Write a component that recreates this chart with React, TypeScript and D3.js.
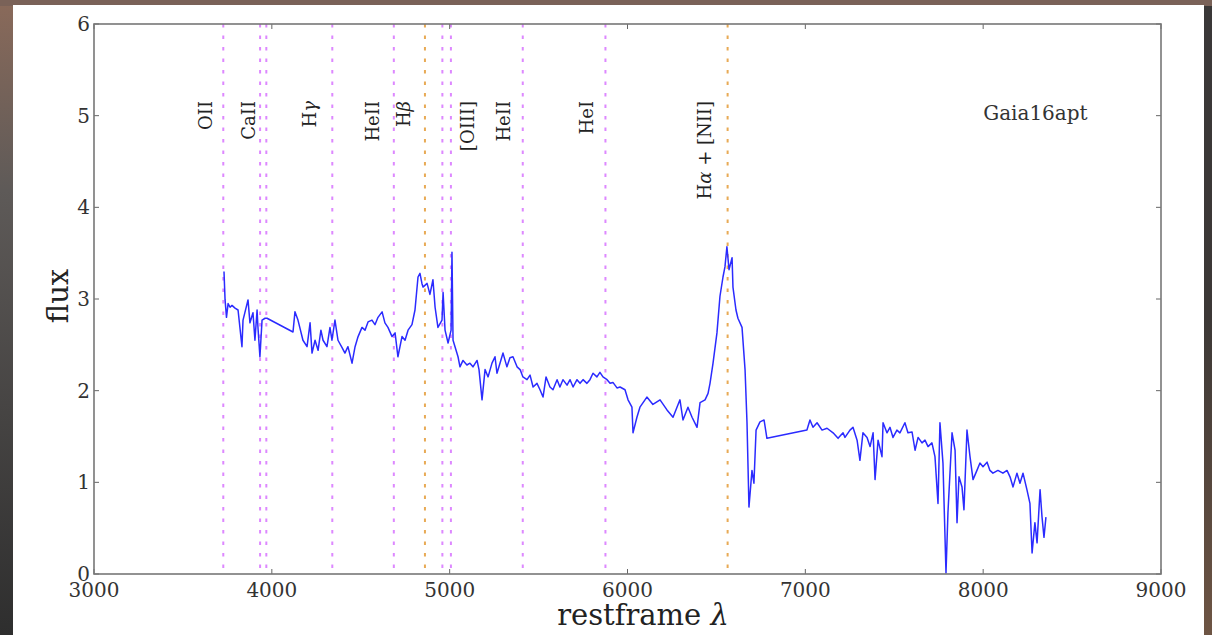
import * as d3 from 'd3';

// ─── Data ───────────────────────────────────────────────────

const WAVE = [
  3731, 3737, 3745, 3754, 3765, 3776, 3793, 3810, 3832, 3838, 3866, 3877, 3894, 3905, 3917, 3922,
  3933, 3945, 3962, 3973, 4119, 4130, 4147, 4175, 4198, 4215, 4226, 4243, 4260, 4276, 4288, 4310,
  4327, 4338, 4355, 4372, 4395, 4411, 4428, 4451, 4468, 4485, 4507, 4524, 4541, 4563, 4580, 4597,
  4620, 4636, 4653, 4676, 4693, 4709, 4732, 4749, 4766, 4788, 4805, 4822, 4833, 4844, 4850, 4873,
  4889, 4906, 4918, 4934, 4957, 4963, 4974, 4991, 5008, 5013, 5019, 5030, 5047, 5058, 5075, 5097,
  5114, 5131, 5154, 5165, 5182, 5199, 5216, 5238, 5255, 5266, 5283, 5300, 5322, 5339, 5356, 5379,
  5396, 5412, 5435, 5452, 5469, 5491, 5508, 5525, 5542, 5564, 5581, 5604, 5620, 5637, 5660, 5677,
  5694, 5716, 5733, 5750, 5772, 5789, 5806, 5828, 5845, 5862, 5885, 5902, 5918, 5941, 5958, 5986,
  6003, 6025, 6031, 6053, 6070, 6109, 6143, 6183, 6222, 6256, 6295, 6312, 6340, 6363, 6391, 6408,
  6436, 6453, 6464, 6481, 6503, 6520, 6537, 6548, 6559, 6571, 6588, 6593, 6610, 6621, 6644, 6661,
  6672, 6683, 6700, 6711, 6723, 6745, 6768, 6784, 7009, 7026, 7043, 7066, 7094, 7122, 7156, 7184,
  7212, 7223, 7251, 7268, 7291, 7307, 7324, 7347, 7364, 7381, 7392, 7409, 7431, 7437, 7459, 7476,
  7493, 7515, 7532, 7560, 7577, 7600, 7617, 7634, 7656, 7673, 7690, 7712, 7729, 7746, 7757, 7774,
  7791, 7802, 7825, 7842, 7853, 7864, 7881, 7892, 7909, 7926, 7943, 7965, 7982, 7999, 8022, 8038,
  8055, 8083, 8111, 8134, 8151, 8168, 8190, 8207, 8224, 8246, 8263, 8275, 8291, 8303, 8320, 8331,
  8342, 8353,
];

const FLUX = [
  3.30, 2.99, 2.80, 2.95, 2.91, 2.93, 2.90, 2.88, 2.48, 2.77, 2.99, 2.74, 2.85, 2.55, 2.88, 2.69,
  2.37, 2.77, 2.79, 2.79, 2.64, 2.86, 2.77, 2.55, 2.48, 2.74, 2.41, 2.55, 2.44, 2.66, 2.55, 2.48,
  2.69, 2.55, 2.77, 2.55, 2.47, 2.41, 2.48, 2.30, 2.48, 2.59, 2.69, 2.66, 2.75, 2.77, 2.72, 2.80,
  2.86, 2.74, 2.69, 2.59, 2.63, 2.37, 2.59, 2.55, 2.66, 2.72, 2.88, 3.24, 3.28, 3.17, 3.13, 3.17,
  3.05, 3.21, 2.91, 2.69, 2.77, 3.07, 2.66, 2.52, 2.66, 3.51, 2.55, 2.48, 2.37, 2.26, 2.33, 2.28,
  2.30, 2.26, 2.33, 2.23, 1.90, 2.23, 2.15, 2.30, 2.37, 2.19, 2.30, 2.41, 2.26, 2.36, 2.37, 2.26,
  2.23, 2.15, 2.12, 2.17, 2.04, 2.08, 2.01, 1.93, 2.15, 2.04, 2.01, 2.12, 2.04, 2.12, 2.06, 2.12,
  2.04, 2.12, 2.08, 2.12, 2.08, 2.12, 2.19, 2.15, 2.20, 2.15, 2.12, 2.08, 2.09, 2.03, 2.04, 2.01,
  1.90, 1.82, 1.54, 1.71, 1.82, 1.93, 1.85, 1.90, 1.79, 1.71, 1.90, 1.68, 1.82, 1.71, 1.60, 1.87,
  1.90, 1.97, 2.08, 2.30, 2.63, 3.03, 3.24, 3.35, 3.57, 3.32, 3.45, 3.13, 2.88, 2.79, 2.69, 2.23,
  1.65, 0.73, 1.13, 0.99, 1.57, 1.66, 1.68, 1.48, 1.57, 1.68, 1.60, 1.65, 1.57, 1.59, 1.54, 1.48,
  1.54, 1.49, 1.57, 1.60, 1.46, 1.24, 1.54, 1.49, 1.39, 1.54, 1.03, 1.46, 1.28, 1.65, 1.54, 1.60,
  1.49, 1.57, 1.54, 1.65, 1.54, 1.55, 1.35, 1.49, 1.43, 1.46, 1.39, 1.43, 1.28, 0.77, 1.65, 1.21,
  0.01, 0.67, 1.54, 1.35, 0.56, 1.06, 0.95, 0.70, 1.57, 1.28, 1.03, 1.13, 1.21, 1.17, 1.22, 1.13,
  1.10, 1.13, 1.10, 1.13, 1.06, 0.95, 1.10, 0.99, 1.10, 0.92, 0.77, 0.23, 0.56, 0.34, 0.92, 0.62,
  0.40, 0.62,
];

const X_TICKS = [3000, 4000, 5000, 6000, 7000, 8000, 9000];
const Y_TICKS = [0, 1, 2, 3, 4, 5, 6];

// Marked spectral lines (Å) and which ones are Balmer (orange)
const LINE_WAVES = [3727, 3934, 3969, 4340, 4686, 4861, 4959, 5007, 5411, 5876, 6563];
const LINE_BALMER = [false, false, false, false, false, true, false, false, false, false, true];

const LABELS = ['OII', 'CaII', 'Hγ', 'HeII', 'Hβ', '[OIII]', 'HeII', 'HeI', 'Hα + [NII]'];
const LABEL_WAVES = [3664, 3905, 4248, 4603, 4777, 5137, 5339, 5806, 6470];
const LABEL_FLUX = 5.16;

const OBJECT_NAME = 'Gaia16apt';

// ─── Layout ─────────────────────────────────────────────────

const W = 1212;
const H = 635;
const PLOT = { left: 94, right: 1161, top: 24, bottom: 574 };
const FONT = '"DejaVu Serif", serif';
const VIOLET = '#dd88ff';
const ORANGE = '#e8aa55';

const x = d3.scaleLinear().domain([3000, 9000]).range([PLOT.left, PLOT.right]);
const y = d3.scaleLinear().domain([0, 6]).range([PLOT.bottom, PLOT.top]);

const spectrumPath = d3
  .line<number>()
  .x((_, i) => x(WAVE[i]))
  .y((d) => y(d))(FLUX);

// greek letters rendered in italic, like mathtext
function richText(s: string) {
  return s.split(/([αβγλ])/).filter(Boolean).map((part, i) =>
    /[αβγλ]/.test(part)
      ? <tspan key={i} fontStyle="italic">{part}</tspan>
      : <tspan key={i}>{part}</tspan>
  );
}

export default function App() {
  const tickLen = 5;
  return (
    <div style={{ position: 'absolute', left: 0, top: 0 }}>
      <svg width={W} height={H} style={{ display: 'block' }}>
        <defs>
          <linearGradient id="bgLeft" x1="0" y1="0" x2="0" y2="1">
            <stop offset="0" stopColor="#8a6a5a" />
            <stop offset="0.3" stopColor="#5e5a58" />
            <stop offset="1" stopColor="#2e2e2e" />
          </linearGradient>
          <linearGradient id="bgRight" x1="0" y1="0" x2="0" y2="1">
            <stop offset="0" stopColor="#3a3838" />
            <stop offset="0.5" stopColor="#3c3836" />
            <stop offset="1" stopColor="#6e5544" />
          </linearGradient>
        </defs>

        {/* dark surroundings of the photographed figure */}
        <rect x={0} y={0} width={W} height={H} fill="url(#bgLeft)" />
        <rect x={W / 2} y={0} width={W / 2} height={H} fill="url(#bgRight)" />
        <rect x={0} y={0} width={W} height={6} fill="#7a6258" />
        <rect x={13} y={5} width={1191} height={H - 5} fill="#ffffff" />

        {/* spectral line markers */}
        {LINE_WAVES.map((w, i) => (
          <line
            key={`l${i}`}
            x1={x(w)} x2={x(w)}
            y1={PLOT.top} y2={PLOT.bottom}
            stroke={LINE_BALMER[i] ? ORANGE : VIOLET}
            strokeWidth={2}
            strokeDasharray="3.5 8"
          />
        ))}

        {/* line labels */}
        {LABELS.map((lab, i) => {
          const lx = x(LABEL_WAVES[i]);
          const ly = y(LABEL_FLUX);
          return (
            <text
              key={`t${i}`}
              transform={`translate(${lx},${ly}) rotate(-90)`}
              textAnchor="end"
              fontFamily={FONT}
              fontSize={18}
              fill="#222"
            >
              {richText(lab)}
            </text>
          );
        })}

        {/* spectrum */}
        <path d={spectrumPath ?? ''} fill="none" stroke="#2b2bff" strokeWidth={1.5} strokeLinejoin="round" />

        {/* ticks, inward on all sides */}
        {X_TICKS.map((t) => (
          <g key={`xt${t}`}>
            <line x1={x(t)} x2={x(t)} y1={PLOT.bottom} y2={PLOT.bottom - tickLen} stroke="#666" strokeWidth={1} />
            <line x1={x(t)} x2={x(t)} y1={PLOT.top} y2={PLOT.top + tickLen} stroke="#666" strokeWidth={1} />
            <text x={x(t)} y={PLOT.bottom + 23} textAnchor="middle" fontFamily={FONT} fontSize={20} fill="#333">
              {t}
            </text>
          </g>
        ))}
        {Y_TICKS.map((t) => (
          <g key={`yt${t}`}>
            <line x1={PLOT.left} x2={PLOT.left + tickLen} y1={y(t)} y2={y(t)} stroke="#666" strokeWidth={1} />
            <line x1={PLOT.right} x2={PLOT.right - tickLen} y1={y(t)} y2={y(t)} stroke="#666" strokeWidth={1} />
            <text x={PLOT.left - 4} y={y(t) + 7} textAnchor="end" fontFamily={FONT} fontSize={20} fill="#333">
              {t}
            </text>
          </g>
        ))}

        {/* frame */}
        <rect
          x={PLOT.left} y={PLOT.top}
          width={PLOT.right - PLOT.left} height={PLOT.bottom - PLOT.top}
          fill="none" stroke="#777" strokeWidth={1.6}
        />

        {/* object name */}
        <text x={x(8000)} y={y(5.0) + 4} fontFamily={FONT} fontSize={20} fill="#333">
          {OBJECT_NAME}
        </text>

        {/* axis labels */}
        <text x={643} y={625} textAnchor="middle" fontFamily={FONT} fontSize={29} fill="#222">
          {richText('restframe λ')}
        </text>
        <text
          transform={`translate(68,${(PLOT.top + PLOT.bottom) / 2 - 3}) rotate(-90)`}
          textAnchor="middle"
          fontFamily={FONT}
          fontSize={29}
          fill="#222"
        >
          flux
        </text>
      </svg>
    </div>
  );
}
